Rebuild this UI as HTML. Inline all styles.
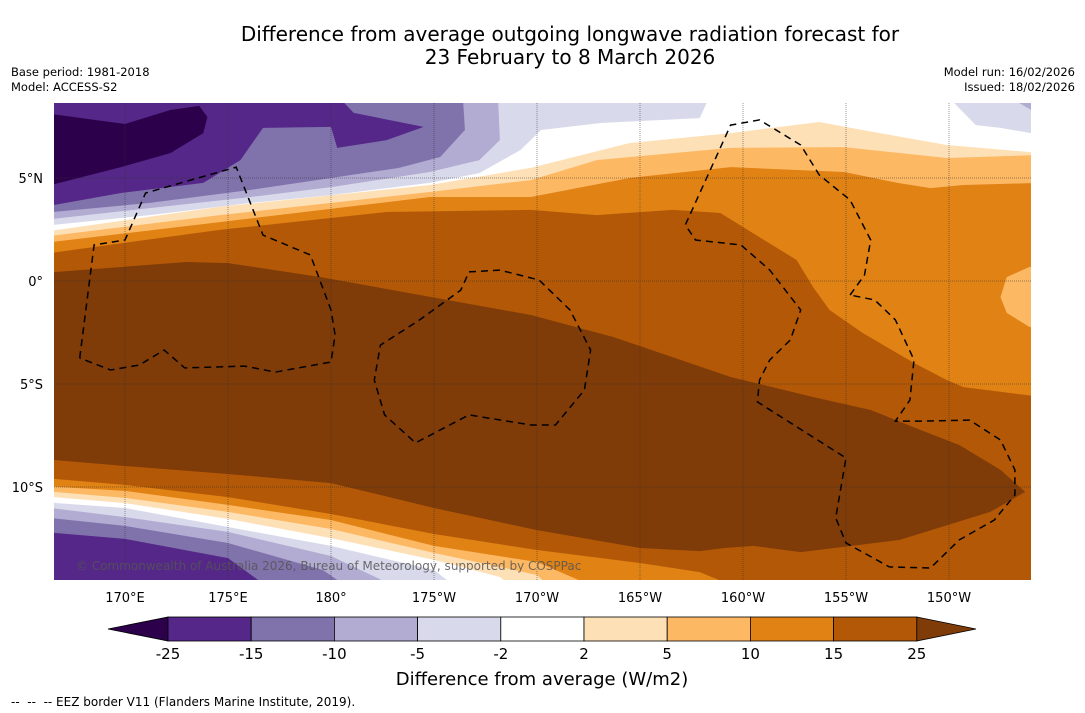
<!DOCTYPE html>
<html><head><meta charset="utf-8"><style>
body{margin:0;background:#fff;width:1085px;height:713px;overflow:hidden;font-family:"DejaVu Sans","Liberation Sans",sans-serif;}
svg{display:block}
</style></head><body>
<svg id="chart" width="1085" height="713" viewBox="0 0 1085 713" xmlns="http://www.w3.org/2000/svg" font-family="DejaVu Sans, Liberation Sans, sans-serif">
<text x="570" y="41" font-size="20" text-anchor="middle">Difference from average outgoing longwave radiation forecast for</text>
<text x="570" y="64" font-size="20" text-anchor="middle">23 February to 8 March 2026</text>
<text x="11" y="76" font-size="11.5">Base period: 1981-2018</text>
<text x="11" y="91" font-size="11.5">Model: ACCESS-S2</text>
<text x="1075" y="76" font-size="11.5" text-anchor="end">Model run: 16/02/2026</text>
<text x="1075" y="91" font-size="11.5" text-anchor="end">Issued: 18/02/2026</text>
<defs><clipPath id="mapclip"><rect x="54" y="103" width="977" height="477"/></clipPath></defs>
<g id="map" clip-path="url(#mapclip)"></g>
<g id="axes"></g>
<g id="cbar"></g>
<text x="542" y="685" font-size="18" text-anchor="middle">Difference from average (W/m2)</text>
<text x="11" y="706" font-size="12" xml:space="preserve" style="white-space:pre">--  --  -- EEZ border V11 (Flanders Marine Institute, 2019).</text>
</svg>
<script>
// colour levels
const levels=[-25,-15,-10,-5,-2,2,5,10,15,25];
const colors=["#2d004b","#542788","#8073ac","#b2abd2","#d8daeb","#ffffff","#fee0b6","#fdb863","#e08214","#b35806","#7f3b08"];
const lonTicks=[170,175,180,185,190,195,200,205,210];
const lonLabels=["170°E","175°E","180°","175°W","170°W","165°W","160°W","155°W","150°W"];
const latTicks=[5,0,-5,-10];
const latLabels=["5°N","0°","5°S","10°S"];
// contour regions [lon(E, continuous), lat]
const regN15=[[166,1.31],[174.6,2.48],[182.7,3.35],[189.7,3.45],[192.9,3.2],[196.6,3.45],[198.9,3.3],[200,2.62],[202.6,1.02],[203.4,-0.29],[204.2,-1.41],[205.8,-2.52],[208.3,-3.98],[209.9,-4.81],[210.7,-5.15],[214.5,-5.63],[214.5,9],[166,9]];
const regN10=[[166,1.84],[174.6,2.86],[184.8,4.08],[189.7,4.08],[194.5,5.0],[199.4,5.53],[204.9,5.29],[207.5,4.76],[209.1,4.51],[210.7,4.66],[214.5,4.76],[214.5,9],[166,9]];
const regN5=[[166,2.14],[174.6,3.2],[184.8,4.32],[189.7,4.9],[192.9,5.87],[199.4,6.46],[204.9,6.5],[209.9,5.97],[214.5,6.12],[214.5,9],[166,9]];
const regN2=[[166,2.38],[174.6,3.6],[184.8,4.66],[189.7,5.49],[194.5,6.7],[199.4,7.18],[203.7,7.72],[205.8,7.33],[209.9,6.6],[214.5,6.21],[214.5,9],[166,9]];
const regNm2W=[[166,2.67],[171.2,3.2],[176.1,3.79],[180,4.17],[184.8,4.76],[187.2,5.24],[189.2,6.36],[190.2,7.33],[193.1,7.67],[197.9,7.91],[198.4,9],[166,9]];
const regNm2E=[[209.9,9],[211.3,7.57],[212.5,7.43],[214.5,7.09],[214.5,9]];
const regNm5E=[[212.8,9],[214.5,8.0],[214.5,9]];
const regNm5=[[166,2.96],[171.2,3.54],[176.1,4.08],[180,4.56],[184.8,5.29],[187.2,5.87],[188.2,6.84],[188.1,9],[166,9]];
const regNm10=[[166,3.3],[171.2,3.79],[176.1,4.42],[180,5.0],[183.3,5.49],[185.3,6.02],[186.5,7.33],[186.4,9],[166,9]];
const regNm15=[[166,3.59],[169.8,4.27],[173.8,4.76],[175.6,5.87],[176.7,7.43],[180,7.48],[180.3,6.46],[182.7,6.84],[184.5,7.48],[181.1,8.16],[180.3,9],[166,9]];
const regNm25=[[166,8.16],[170,7.62],[172.2,8.3],[173.6,8.5],[174,7.96],[173.8,7.18],[172.2,6.21],[169.8,5.53],[166,4.56]];
const regBlob10=[[214.5,0.68],[213.9,0.68],[212.8,0.19],[212.5,-0.78],[212.8,-1.55],[213.9,-2.23],[214.5,-2.3]];
const regCore=[[166,0.39],[173,0.92],[175,0.87],[179.5,0.19],[189.7,-1.65],[193.7,-2.72],[199.4,-4.66],[203.4,-5.63],[206.2,-6.26],[208.6,-7.23],[210.5,-7.96],[212.5,-9.17],[213.7,-10.24],[212,-11.21],[207.6,-12.57],[202.8,-13.16],[200.5,-12.86],[199.1,-12.96],[197.9,-13.11],[195,-12.96],[190,-12.09],[185,-11.02],[180,-9.81],[175,-9.37],[170,-8.98],[166,-8.64]];
const regS15=[[166,-9.56],[170,-9.9],[175,-10.49],[180,-11.31],[185,-12.28],[190,-13.06],[195,-13.69],[197.9,-14.13],[200.5,-15.2],[166,-15.2]];
const regS10=[[166,-9.95],[170,-10.19],[175,-10.87],[180,-11.6],[185,-12.86],[190,-13.64],[193.6,-15.2],[166,-15.2]];
const regS5=[[166,-10.19],[170,-10.53],[175,-11.21],[180,-12.04],[185,-13.2],[190,-14.27],[191,-15.2],[166,-15.2]];
const regS2=[[166,-10.44],[170,-10.78],[175,-11.55],[180,-12.48],[185,-13.54],[188.2,-14.37],[189.3,-15.2],[166,-15.2]];
const regSm2=[[166,-10.73],[170,-11.02],[175,-11.94],[180,-12.86],[185,-14.03],[186.5,-15.2],[166,-15.2]];
const regSm5=[[166,-10.97],[170,-11.46],[175,-12.18],[180,-13.35],[183.9,-15.2],[166,-15.2]];
const regSm10=[[166,-11.46],[170,-11.89],[175,-12.72],[179.6,-14.03],[181.3,-15.2],[166,-15.2]];
const regSm15=[[166,-12.18],[170,-12.52],[175,-13.45],[177.4,-15.2],[166,-15.2]];
// EEZ borders
const eez1=[[167.8,-3.74],[168.5,1.75],[170,1.99],[171,4.27],[175.4,5.53],[176.7,2.23],[179,1.26],[180,-1.41],[180.2,-2.62],[180,-3.93],[177.3,-4.42],[175.8,-4.13],[172.9,-4.22],[171.9,-3.35],[170.7,-4.08],[169.3,-4.32],[167.8,-3.74]];
const eez2=[[186.7,0.44],[188.2,0.53],[190.1,0.05],[191.6,-1.41],[192.6,-3.35],[192.3,-5.29],[190.9,-6.99],[189.7,-6.99],[186.7,-6.5],[184.1,-7.86],[182.6,-6.5],[182.1,-4.81],[182.4,-3.11],[184.3,-1.89],[186.3,-0.44],[186.7,0.44]];
const eez3=[[205.2,-0.68],[205.9,0.29],[206.2,1.99],[205.2,3.93],[203.7,5.15],[202.8,6.6],[200.8,7.82],[199.4,7.57],[197.2,2.72],[197.7,1.99],[199.9,1.75],[201.3,0.53],[202.8,-1.41],[202.3,-2.86],[201.3,-3.83],[200.8,-4.81],[200.7,-5.87],[205,-8.59],[204.5,-11.5],[205,-12.72],[207.1,-13.88],[209.1,-13.93],[210.5,-12.57],[212.2,-11.6],[213.2,-10.39],[213.2,-9.17],[212.5,-7.72],[211,-6.75],[208.6,-6.8],[207.4,-6.8],[208.1,-5.78],[208.3,-3.83],[207.4,-1.89],[206.4,-0.92],[205.2,-0.68]];

const NS="http://www.w3.org/2000/svg";
const X=lon=>125+(lon-170)*20.6;
const Y=lat=>281-lat*20.6;
const pts=a=>a.map(p=>X(p[0]).toFixed(1)+","+Y(p[1]).toFixed(1)).join(" ");
const map=document.getElementById("map");
function el(tag,attrs,parent){const e=document.createElementNS(NS,tag);for(const k in attrs)e.setAttribute(k,attrs[k]);parent.appendChild(e);return e;}
const base=el("rect",{x:54,y:103,width:977,height:477,fill:colors[9]},map);


const layers=[[regN15,8,"north-10-15"],[regN10,7,"north-5-10"],[regN5,6,"north-2-5"],[regN2,5,"north-neutral"],[regNm2W,4,"north-west-minus2-minus5"],[regNm2E,4,"north-east-minus2-minus5"],[regNm5E,3,"north-east-minus5-minus10"],[regNm5,3,"north-minus5-minus10"],[regNm10,2,"north-minus10-minus15"],[regNm15,1,"north-minus15-minus25"],[regNm25,0,"north-below-minus25"],[regBlob10,7,"east-5-10-blob"],[regCore,10,"core-above-25"],[regS15,8,"south-10-15"],[regS10,7,"south-5-10"],[regS5,6,"south-2-5"],[regS2,5,"south-neutral"],[regSm2,4,"south-minus2-minus5"],[regSm5,3,"south-minus5-minus10"],[regSm10,2,"south-minus10-minus15"],[regSm15,1,"south-minus15-minus25"]];
layers.forEach(l=>{const p=el("polygon",{points:pts(l[0]),fill:colors[l[1]]},map);

});
// grid
lonTicks.forEach(lo=>{const g=el("line",{x1:X(lo),x2:X(lo),y1:103,y2:580,stroke:"#333","stroke-width":0.5,"stroke-dasharray":"1,1"},map);

});
latTicks.forEach(la=>{const g=el("line",{x1:54,x2:1031,y1:Y(la),y2:Y(la),stroke:"#333","stroke-width":0.5,"stroke-dasharray":"1,1"},map);

});
[eez1,eez2,eez3].forEach((e,i)=>{const p=el("polyline",{points:pts(e),fill:"none",stroke:"#000","stroke-width":1.5,"stroke-dasharray":"7,5"},map);

});
const cp=el("text",{x:76,y:570,"font-size":12,fill:"#555","fill-opacity":0.85},map);
cp.textContent="© Commonwealth of Australia 2026, Bureau of Meteorology, supported by COSPPac";


// axes labels
const axes=document.getElementById("axes");
lonTicks.forEach((lo,i)=>{const t=el("text",{x:X(lo),y:602,"font-size":13,"text-anchor":"middle"},axes);t.textContent=lonLabels[i];

});
latTicks.forEach((la,i)=>{const t=el("text",{x:43,y:Y(la)+5,"font-size":13,"text-anchor":"end"},axes);t.textContent=latLabels[i];

});
// colorbar
const cb=document.getElementById("cbar");
const cx0=168,cw=83.2,cy0=617,ch=24;
const CX=i=>cx0+i*cw;
const lt=el("polygon",{points:`108,629 ${CX(0)},${cy0} ${CX(0)},${cy0+ch}`,fill:colors[0],stroke:"#000","stroke-width":0.8},cb);


for(let i=0;i<levels.length-1;i++){const r=el("rect",{x:CX(i),y:cy0,width:cw,height:ch,fill:colors[i+1],stroke:"#000","stroke-width":0.8},cb);

}
const rt=el("polygon",{points:`${CX(levels.length-1)},${cy0} 976,629 ${CX(levels.length-1)},${cy0+ch}`,fill:colors[10],stroke:"#000","stroke-width":0.8},cb);


levels.forEach((v,i)=>{const t=el("text",{x:CX(i),y:659,"font-size":15,"text-anchor":"middle"},cb);t.textContent=v;

});
</script>
</body></html>
